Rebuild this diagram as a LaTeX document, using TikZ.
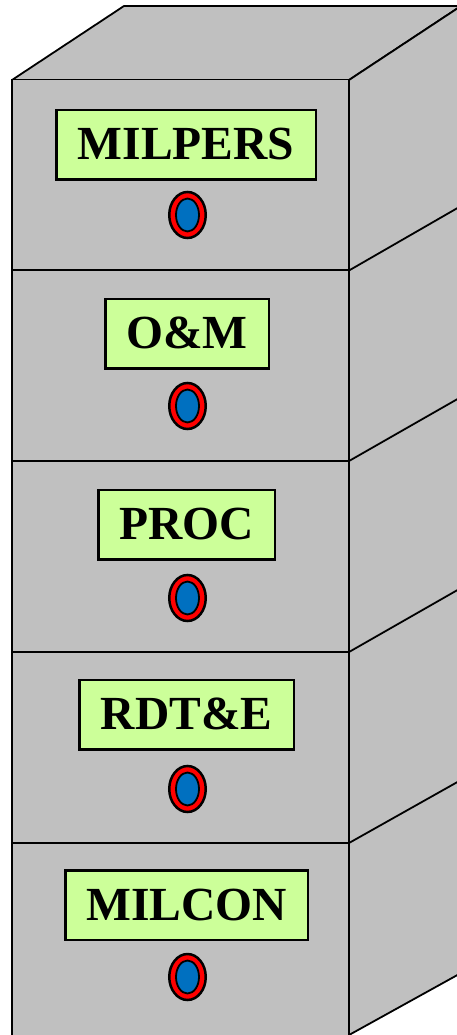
\documentclass[tikz,border=0pt]{standalone}
\usepackage{fontspec}
\setmainfont{Liberation Serif}
\usetikzlibrary{positioning, shapes.geometric}
\definecolor{cabgray}{HTML}{C0C0C0}
\definecolor{taggreen}{HTML}{CCFF99}
\definecolor{knobblue}{HTML}{0070C0}
\tikzstyle{front}=[rectangle, draw=black, fill=cabgray, line width=1.8pt, minimum width=337pt, minimum height=191pt, inner sep=0pt, outer sep=0pt]
\tikzstyle{side}=[draw=black, fill=cabgray, line width=1.8pt, line join=round]
\tikzstyle{tag}=[rectangle, draw=black, fill=taggreen, line width=2.5pt, minimum height=69.5pt, inner sep=0pt, outer sep=0pt, text height=33pt, text depth=3pt, font=\fontsize{47.5}{48}\selectfont\bfseries]
\tikzstyle{knob}=[ellipse, draw=black, fill=red, line width=2.5pt, minimum width=36.5pt, minimum height=46pt, inner sep=0pt, outer sep=0pt]
\tikzstyle{knobin}=[ellipse, draw=black, fill=knobblue, line width=1.8pt, minimum width=23pt, minimum height=33pt, inner sep=0pt, outer sep=0pt]

\begin{document}
\begin{tikzpicture}[x=1pt, y=-1pt, node distance=70pt]
    \useasboundingbox (0,0) rectangle (457,1035);
    \clip (0,0) rectangle (457,1035);

    % Top and right faces:
    \coordinate (tl) at (12,80);
    \coordinate (tr) at (349,80);
    \coordinate (bl) at (124,6);
    \coordinate (br) at (461,6);
    \coordinate (fb) at (349,1035);
    \coordinate (bb) at (461,973);
    \draw[side] (tl) -- (bl) -- (br) -- (tr) -- cycle;
    \draw[side] (tr) -- (br) -- (bb) -- (fb) -- cycle;

    % Drawer fronts:
    \node[front] (d0) at (180.5,175) {};
    \node[front] (d1) at (180.5,365.5) {};
    \node[front] (d2) at (180.5,556.5) {};
    \node[front] (d3) at (180.5,747.5) {};
    \node[front, minimum height=200pt] (d4) at (180.5,943.5) {};

    % Drawer edges on the side:
    \coordinate (e0) at (461,206);
    \coordinate (e1) at (461,397);
    \coordinate (e2) at (461,588);
    \coordinate (e3) at (461,780);
    \draw[side] (d0.south east) -- (e0);
    \draw[side] (d1.south east) -- (e1);
    \draw[side] (d2.south east) -- (e2);
    \draw[side] (d3.south east) -- (e3);

    % Labels:
    \node[tag, minimum width=259.5pt] (l0) at (186,145) {MILPERS};
    \node[tag, minimum width=163.5pt] (l1) at (187,333.5) {O\&M};
    \node[tag, minimum width=176.5pt] (l2) at (186.5,524.5) {PROC};
    \node[tag, minimum width=214.5pt] (l3) at (186.5,714.5) {RDT\&E};
    \node[tag, minimum width=242.5pt] (l4) at (186.5,905) {MILCON};

    % Knobs:
    \node[knob] (k0) [below of=l0, xshift=1.5pt] {};
    \node[knob] (k1) [below of=l1, xshift=0.5pt, yshift=-2.5pt] {};
    \node[knob] (k2) [below of=l2, xshift=1pt, yshift=-3.5pt] {};
    \node[knob] (k3) [below of=l3, xshift=1pt, yshift=-4.5pt] {};
    \node[knob] (k4) [below of=l4, xshift=1pt, yshift=-2pt] {};
    \node[knobin] (i0) at (k0) {};
    \node[knobin] (i1) at (k1) {};
    \node[knobin] (i2) at (k2) {};
    \node[knobin] (i3) at (k3) {};
    \node[knobin] (i4) at (k4) {};
\end{tikzpicture}
\end{document}
